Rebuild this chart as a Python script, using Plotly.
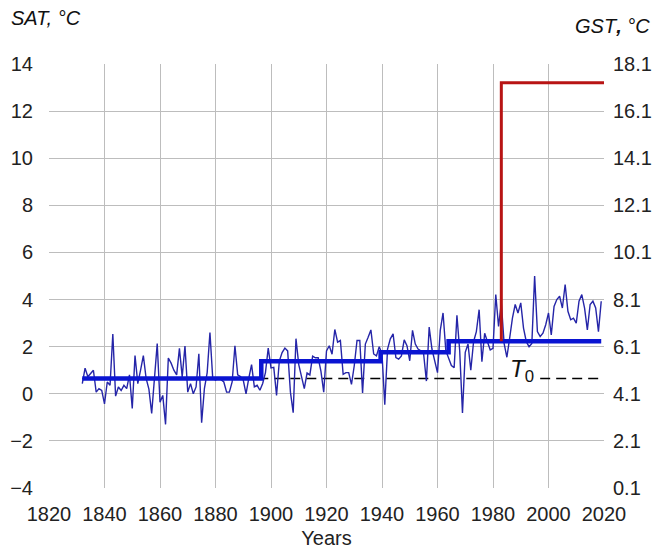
import plotly.graph_objects as go

years = list(range(1832, 2020))
sat = [
    0.43, 1.09, 0.72, 0.85, 1.0, 0.07, 0.22, 0.14, -0.43, 0.5,
    0.36, 2.54, -0.1, 0.29, 0.14, 0.36, 0.22, 0.8, -0.62, 1.62,
    0.43, 1.0, 1.62, 0.65, 0.2, -0.83, 0.5, 2.13, -0.36, -0.07,
    -1.3, 1.52, 1.3, 1.0, 0.8, 1.93, 0.72, 2.03, 0.07, 0.43,
    0.0, 0.29, 1.7, -1.23, 0.22, 0.9, 2.6, 0.66, 0.58, 0.66,
    0.6, 0.5, 0.07, 0.07, 0.5, 2.04, 0.8, 0.73, 0.58, 0.0,
    0.66, 1.24, 0.29, 0.36, 0.15, 0.44, 0.9, 1.94, 1.1, 1.12,
    -0.07, 1.39, 1.75, 1.94, 1.82, 0.07, -0.8, 2.34, 1.24, 0.66,
    0.22, 0.88, 0.8, 1.6, 1.53, 1.53, 0.95, 0.07, 1.82, 2.04,
    1.68, 2.73, 2.19, 2.26, 0.83, 0.9, 0.9, 0.4, 1.19, 2.26,
    2.26, 0.04, 2.11, 2.4, 2.71, 1.69, 1.61, 2.0, 1.69, -0.46,
    1.9, 2.33, 2.54, 1.54, 1.47, 1.61, 2.29, 2.04, 1.4, 2.69,
    2.11, 1.9, 1.83, 1.69, 0.54, 2.83, 1.9, 1.4, 0.9, 2.69,
    3.43, 1.83, 1.5, 1.2, 1.11, 3.33, 1.83, -0.81, 1.76, 2.11,
    1.0, 2.21, 2.64, 3.57, 1.36, 2.57, 2.21, 1.86, 1.93, 4.21,
    2.86, 3.86, 2.14, 1.55, 2.36, 3.21, 3.79, 3.43, 3.86, 2.79,
    2.21, 2.0, 2.14, 5.0, 2.64, 2.43, 2.57, 2.93, 3.43, 2.5,
    3.71, 4.0, 4.14, 3.64, 4.64, 3.5, 3.14, 3.21, 3.0, 3.93,
    4.21, 3.64, 2.71, 3.79, 3.93, 3.64, 2.64, 3.93,
]

# Period means (step function)
step_edges = [1832, 1896.5, 1939.5, 1964, 2019]
step_means = [0.65, 1.38, 1.76, 2.23]

# Reference level T0
t0_value = 0.65
t0_segments = [(1832, 1985), (1997, 2020)]

# GST (right axis)
gst_years = [1983, 1983, 2020]
gst_values = [6.33, 17.3, 17.3]

x_ticks = list(range(1820, 2021, 20))
y_ticks = list(range(-4, 15, 2))
y2_ticks = [0.1, 2.1, 4.1, 6.1, 8.1, 10.1, 12.1, 14.1, 16.1, 18.1]

step_x, step_y = [], []
for i, m in enumerate(step_means):
    step_x += [step_edges[i], step_edges[i + 1]]
    step_y += [m, m]

t0_x, t0_y = [], []
for a, b in t0_segments:
    t0_x += [a, b, None]
    t0_y += [t0_value, t0_value, None]

FONT = "Liberation Sans, Arial, sans-serif"

W, H = 663, 553
L, R, T, B = 49, 59, 64, 65

def px_x(px):
    return (px - L) / (W - L - R)

def px_y(py):
    return 1 - (py - T) / (H - T - B)

fig = go.Figure()
fig.add_trace(go.Scatter(x=t0_x, y=t0_y, mode="lines",
                         line=dict(color="black", width=1.5, dash="10px,6px"),
                         hoverinfo="skip", showlegend=False))
fig.add_trace(go.Scatter(x=years, y=sat, mode="lines",
                         line=dict(color="#2525a8", width=1.4),
                         showlegend=False))
fig.add_trace(go.Scatter(x=step_x, y=step_y, mode="lines",
                         line=dict(color="#0a14d2", width=4.5),
                         showlegend=False))
fig.add_trace(go.Scatter(x=gst_years, y=gst_values, mode="lines", yaxis="y2",
                         line=dict(color="#b81414", width=3),
                         showlegend=False))

fig.add_annotation(x=1990.5, y=1.0, xref="x", yref="y",
                   text="<i>T</i><sub>0</sub>", showarrow=False,
                   font=dict(size=24, color="#111", family=FONT))
fig.add_annotation(x=px_x(9), y=px_y(18), xref="paper", yref="paper",
                   xanchor="left", yanchor="middle",
                   text="<i>SAT, °C</i>", showarrow=False,
                   font=dict(size=20, color="#111", family=FONT))
fig.add_annotation(x=px_x(652), y=px_y(26), xref="paper", yref="paper",
                   xanchor="right", yanchor="middle",
                   text="<i>GST<b>,</b> °C</i>", showarrow=False,
                   font=dict(size=20, color="#111", family=FONT))

fig.update_layout(
    width=W, height=H,
    margin=dict(l=L, r=R, t=T, b=B),
    paper_bgcolor="white", plot_bgcolor="white",
    font=dict(family=FONT, size=20, color="#222"),
    xaxis=dict(range=[1820, 2020], tickvals=x_ticks, showgrid=True,
               gridcolor="#bdbdbd", gridwidth=1, zeroline=False,
               showline=False, ticks="", ticklabelstandoff=12, automargin=False,
               title=dict(text="Years", standoff=6,
                          font=dict(size=20, family=FONT, color="#222"))),
    yaxis=dict(range=[-4, 14], tickvals=y_ticks, showgrid=True,
               gridcolor="#bdbdbd", gridwidth=1, zeroline=False, automargin=False,
               showline=False, ticks="", ticklabelstandoff=15),
    yaxis2=dict(range=[0.1, 18.1], tickvals=y2_ticks,
                ticktext=[f"{v:.1f}" for v in y2_ticks], automargin=False,
                overlaying="y", side="right", showgrid=False,
                zeroline=False, showline=False, ticks="", ticklabelstandoff=8),
)

fig.write_html("out.html")
